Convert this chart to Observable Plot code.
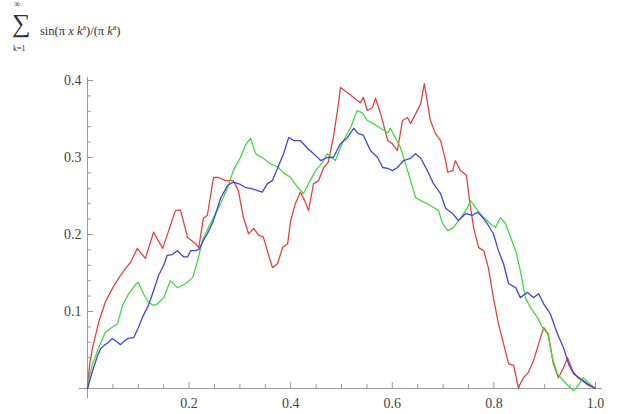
<!DOCTYPE html>
<html><head><meta charset="utf-8">
<script src="https://cdn.jsdelivr.net/npm/d3@7"></script>
<script src="https://cdn.jsdelivr.net/npm/@observablehq/plot@0.6"></script>
<style>
body{margin:0;background:#fff;}
#wrap{position:relative;width:621px;height:414px;font-family:"Liberation Serif","DejaVu Serif",serif;color:#333;}
#wrap svg{position:absolute;left:0;top:0;}
.t{position:absolute;white-space:nowrap;line-height:1;}
.sp{font-size:8px;position:relative;top:-5px;}
</style></head><body>
<div id="wrap">
 <div class="t" style="left:14px;top:0px;font-size:9px;line-height:9px">∞</div>
 <div class="t" style="left:12px;top:11px;font-size:26px;line-height:26px">∑</div>
 <div class="t" style="left:13px;top:45px;font-size:8px">k=1</div>
 <div class="t" style="left:40px;top:25px;font-size:12.5px">sin(π <i>x</i> <i>k</i><span class="sp">a</span>)/(π <i>k</i><span class="sp">a</span>)</div>
</div>
<script>
const redX = [0,0.004,0.010,0.022,0.035,0.049,0.061,0.075,0.085,0.098,
0.114,0.130,0.148,0.173,0.183,0.197,0.213,0.219,0.228,0.236,
0.248,0.258,0.272,0.287,0.297,0.307,0.317,0.327,0.337,0.346,
0.354,0.364,0.374,0.384,0.394,0.400,0.409,0.419,0.429,0.435,
0.445,0.455,0.465,0.474,0.484,0.492,0.498,0.512,0.524,0.537,
0.543,0.551,0.561,0.567,0.577,0.591,0.600,0.610,0.620,0.630,
0.636,0.646,0.656,0.663,0.675,0.685,0.695,0.705,0.709,0.719,
0.724,0.734,0.746,0.752,0.760,0.770,0.780,0.789,0.799,0.809,
0.819,0.829,0.839,0.848,0.858,0.868,0.878,0.888,0.898,0.907,
0.917,0.927,0.937,0.945,0.955,0.965,0.974,0.986,1];
const redY = [0,0.030,0.053,0.086,0.112,0.130,0.143,0.156,0.164,0.182,
0.169,0.203,0.182,0.231,0.232,0.196,0.188,0.183,0.221,0.225,
0.274,0.274,0.270,0.270,0.257,0.222,0.201,0.208,0.199,0.197,
0.179,0.157,0.162,0.183,0.188,0.218,0.240,0.255,0.242,0.231,
0.266,0.270,0.287,0.294,0.326,0.361,0.391,0.384,0.378,0.371,
0.378,0.361,0.365,0.377,0.357,0.322,0.318,0.309,0.348,0.352,
0.344,0.357,0.370,0.396,0.348,0.331,0.322,0.296,0.281,0.283,
0.296,0.283,0.277,0.244,0.209,0.183,0.179,0.157,0.118,0.084,
0.058,0.032,0.030,0.001,0.014,0.021,0.036,0.058,0.079,0.071,
0.032,0.014,0.027,0.040,0.023,0.014,0.010,0.004,0];
const greenX = [0,0.004,0.010,0.022,0.035,0.045,0.059,0.069,0.081,0.093,
0.100,0.110,0.120,0.130,0.138,0.150,0.163,0.177,0.193,0.207,
0.217,0.226,0.238,0.248,0.262,0.276,0.287,0.301,0.311,0.321,
0.331,0.346,0.360,0.374,0.386,0.400,0.413,0.425,0.435,0.449,
0.463,0.472,0.488,0.504,0.518,0.531,0.541,0.551,0.563,0.577,
0.591,0.596,0.606,0.616,0.626,0.636,0.646,0.656,0.669,0.681,
0.691,0.699,0.709,0.720,0.734,0.748,0.754,0.768,0.780,0.793,
0.803,0.813,0.823,0.833,0.843,0.852,0.862,0.872,0.886,0.896,
0.906,0.915,0.925,0.937,0.947,0.957,0.967,0.976,0.988,1];
const greenY = [0,0.017,0.032,0.053,0.073,0.078,0.084,0.108,0.123,0.134,
0.138,0.123,0.112,0.108,0.110,0.118,0.140,0.131,0.136,0.144,
0.166,0.192,0.209,0.222,0.240,0.261,0.283,0.300,0.316,0.325,
0.305,0.299,0.292,0.288,0.280,0.274,0.262,0.253,0.266,0.283,
0.294,0.305,0.296,0.322,0.339,0.361,0.358,0.348,0.344,0.338,
0.332,0.338,0.326,0.313,0.292,0.270,0.248,0.244,0.240,0.235,
0.231,0.214,0.205,0.209,0.221,0.235,0.244,0.231,0.222,0.214,
0.209,0.222,0.214,0.196,0.179,0.153,0.118,0.105,0.092,0.079,
0.071,0.040,0.019,0.010,0.003,-0.003,0.005,0.014,0.006,0];
const blueX = [0,0.006,0.012,0.020,0.026,0.033,0.041,0.049,0.059,0.065,
0.073,0.079,0.091,0.100,0.110,0.120,0.130,0.140,0.150,0.157,
0.167,0.177,0.189,0.197,0.203,0.213,0.220,0.228,0.236,0.248,
0.262,0.276,0.287,0.301,0.311,0.321,0.335,0.344,0.354,0.364,
0.374,0.386,0.396,0.406,0.419,0.433,0.445,0.459,0.472,0.484,
0.498,0.512,0.524,0.533,0.543,0.557,0.571,0.581,0.591,0.600,
0.610,0.622,0.636,0.646,0.656,0.669,0.681,0.695,0.705,0.719,
0.730,0.744,0.758,0.768,0.778,0.787,0.799,0.809,0.819,0.829,
0.843,0.852,0.866,0.878,0.888,0.898,0.911,0.925,0.937,0.947,
0.957,0.970,0.984,1];
const blueY = [0,0.014,0.027,0.043,0.052,0.056,0.060,0.065,0.060,0.057,
0.062,0.065,0.066,0.079,0.095,0.108,0.127,0.147,0.160,0.173,
0.174,0.179,0.171,0.171,0.179,0.179,0.181,0.192,0.201,0.218,
0.247,0.264,0.268,0.265,0.261,0.260,0.257,0.255,0.266,0.270,
0.286,0.305,0.326,0.322,0.322,0.312,0.305,0.296,0.300,0.300,
0.318,0.326,0.338,0.331,0.329,0.309,0.300,0.287,0.286,0.283,
0.287,0.296,0.299,0.305,0.299,0.283,0.266,0.253,0.234,0.227,
0.218,0.227,0.225,0.229,0.222,0.214,0.201,0.179,0.162,0.136,
0.131,0.118,0.125,0.118,0.123,0.110,0.097,0.071,0.053,0.032,
0.019,0.013,0.006,0];
const xMajor = [0.2,0.4,0.6,0.8,1.0];
const xMinor = [0.05,0.1,0.15,0.25,0.3,0.35,0.45,0.5,0.55,0.65,0.7,0.75,0.85,0.9,0.95];
const yMajor = [0.1,0.2,0.3,0.4];
const yMinor = [0.02,0.04,0.06,0.08,0.12,0.14,0.16,0.18,0.22,0.24,0.26,0.28,0.32,0.34,0.36,0.38];

const toRows = (xs, ys) => xs.map((x, i) => ({x, y: ys[i]}));
const axisColor = "#9a9a9a";
const labelFont = "'Liberation Serif', 'DejaVu Serif', serif";
const fmt = d3.format(".1f");

const chart = Plot.plot({
  width: 621, height: 414,
  marginLeft: 87, marginRight: 26, marginTop: 80, marginBottom: 26,
  x: {domain: [0, 1], axis: null},
  y: {domain: [0, 0.4], axis: null},
  style: {background: "transparent"},
  marks: [
    Plot.ruleY([0], {x1: 0, x2: 1, insetLeft: -8, insetRight: -7, stroke: axisColor}),
    Plot.ruleX([0], {y1: 0.4, y2: 0, insetTop: -3, insetBottom: -10, stroke: axisColor}),
    Plot.ruleX(xMinor, {x: d => d, y1: 0, y2: 0, insetTop: -4, stroke: axisColor}),
    Plot.ruleX(xMajor, {x: d => d, y1: 0, y2: 0, insetTop: -6, stroke: axisColor}),
    Plot.ruleY(yMinor, {y: d => d, x1: 0, x2: 0, insetRight: -4, stroke: axisColor}),
    Plot.ruleY(yMajor, {y: d => d, x1: 0, x2: 0, insetRight: -6, stroke: axisColor}),
    Plot.text(xMajor, {x: d => d, y: 0, text: d => fmt(d), dy: 15, fontSize: 14, fontFamily: labelFont, fill: "#444"}),
    Plot.text(yMajor, {x: 0, y: d => d, text: d => fmt(d), dx: -6, textAnchor: "end", fontSize: 14, fontFamily: labelFont, fill: "#444"}),
    Plot.line(toRows(redX, redY), {x: "x", y: "y", stroke: "#e04545", strokeWidth: 1.3}),
    Plot.line(toRows(greenX, greenY), {x: "x", y: "y", stroke: "#45d845", strokeWidth: 1.3}),
    Plot.line(toRows(blueX, blueY), {x: "x", y: "y", stroke: "#4545d6", strokeWidth: 1.3})
  ]
});
document.getElementById("wrap").prepend(chart);
</script>
</body></html>
